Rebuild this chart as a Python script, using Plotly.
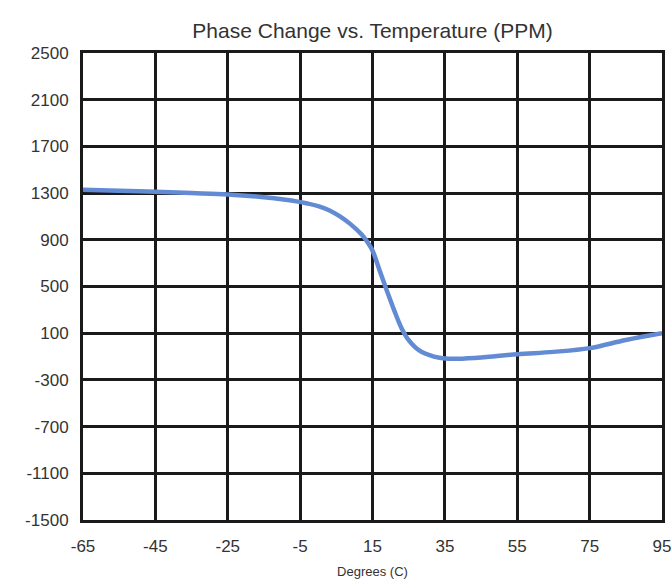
import plotly.graph_objects as go

# Data
temp_c = [-65, -55, -45, -35, -25, -15, -9, -6, -3, 0, 3, 6, 9, 12, 13.5, 15, 17, 19, 21, 23, 25, 28, 32, 36, 44, 55, 65, 75, 85, 95]
ppm = [1328, 1320, 1311, 1300, 1288, 1265, 1243, 1229, 1211, 1188, 1153, 1100, 1032, 945, 885, 808, 635, 462, 295, 145, 40, -50, -100, -118, -110, -80, -60, -28, 42, 100]

x_ticks = [-65, -45, -25, -5, 15, 35, 55, 75, 95]
x_tick_text = ["-65", "-45", "-25", "-5", "15", "35", "55", "75", "95"]
y_ticks = [2500, 2100, 1700, 1300, 900, 500, 100, -300, -700, -1100, -1500]
y_tick_text = ["2500", "2100", "1700", "1300", "900", "500", "100", "-300", "-700", "-1100", "-1500"]

fig = go.Figure()
fig.add_trace(go.Scatter(
    x=temp_c, y=ppm, mode="lines",
    line=dict(color="#638bd3", width=4.5, shape="spline", smoothing=1.0),
    showlegend=False, hoverinfo="x+y",
))

font_family = "Liberation Sans, Arial, sans-serif"

fig.update_layout(
    width=671, height=580,
    margin=dict(l=83, r=9, t=53, b=60),
    paper_bgcolor="white", plot_bgcolor="white",
    font=dict(family=font_family, color="#333333"),
    title=dict(
        text="Phase Change vs. Temperature (PPM)",
        x=(83 + 662) / 2 / 671, xanchor="center",
        y=1 - 31 / 580, yanchor="middle", yref="container",
        font=dict(size=21, color="#333333"),
    ),
)

fig.update_xaxes(
    range=[-65, 95], automargin=False, ticklabeloverflow="allow",
    tickvals=x_ticks, ticktext=x_tick_text,
    showgrid=True, gridcolor="#1a1a1a", gridwidth=2.5,
    showline=True, linecolor="#1a1a1a", linewidth=3, mirror=True,
    zeroline=False,
    ticks="", ticklabelstandoff=9,
    tickfont=dict(size=17, color="#333333"),
    title=dict(text="Degrees (C)", font=dict(size=13, color="#333333"), standoff=12),
)
fig.update_yaxes(
    range=[-1500, 2500], automargin=False, ticklabeloverflow="allow",
    tickvals=y_ticks, ticktext=y_tick_text,
    showgrid=True, gridcolor="#1a1a1a", gridwidth=2.5,
    showline=True, linecolor="#1a1a1a", linewidth=3, mirror=True,
    zeroline=False,
    ticks="", ticklabelstandoff=8,
    tickfont=dict(size=17, color="#333333"),
)

fig.write_html("out.html")
